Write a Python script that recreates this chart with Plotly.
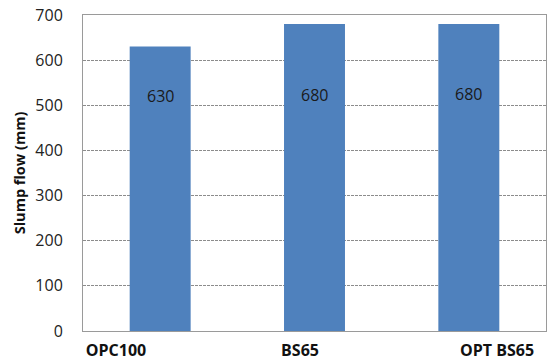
import plotly.graph_objects as go

categories = ["OPC100", "BS65", "OPT BS65"]
slump_flow = [630, 680, 680]
y_ticks = [0, 100, 200, 300, 400, 500, 600, 700]

xpos = list(range(len(categories)))

fig = go.Figure()
fig.add_trace(go.Bar(
    x=xpos, y=slump_flow, width=0.395,
    marker=dict(color="#4F81BD", line=dict(width=0)),
    hoverinfo="skip",
))

for i, v in enumerate(slump_flow):
    fig.add_annotation(x=xpos[i], y=520 + (i * 3), text=str(v), showarrow=False,
                       font=dict(family="Open Sans", size=16, color="#1a1a1a"),
                       xanchor="center", yanchor="middle")

fig.update_layout(
    width=548, height=363,
    margin=dict(l=83, r=2, t=15, b=32),
    paper_bgcolor="white", plot_bgcolor="white",
    showlegend=False,
    font=dict(family="Open Sans", color="#222"),
)
fig.update_xaxes(
    range=[-0.5, 2.5],
    tickmode="array",
    tickvals=[-0.286, 0.906, 2.183],
    ticktext=categories,
    tickfont=dict(family="Open Sans", size=16, color="#111", weight="bold"),
    showgrid=False, zeroline=False,
    showline=True, linecolor="#9a9a9a", linewidth=1, mirror=True,
    ticks="", ticklabelstandoff=5,
)
fig.update_yaxes(
    range=[0, 700],
    tickmode="array", tickvals=y_ticks,
    tickfont=dict(family="Open Sans", size=16, color="#222"),
    showgrid=True, gridcolor="#8c8c8c", griddash="3px,1px", gridwidth=1,
    zeroline=False,
    showline=True, linecolor="#9a9a9a", linewidth=1, mirror=True,
    ticks="", ticklabelstandoff=16,
    title=dict(text="<b>Slump flow (mm)</b>", font=dict(family="Open Sans", size=14.5, color="#111"), standoff=6),
)

fig.write_html("out.html")
